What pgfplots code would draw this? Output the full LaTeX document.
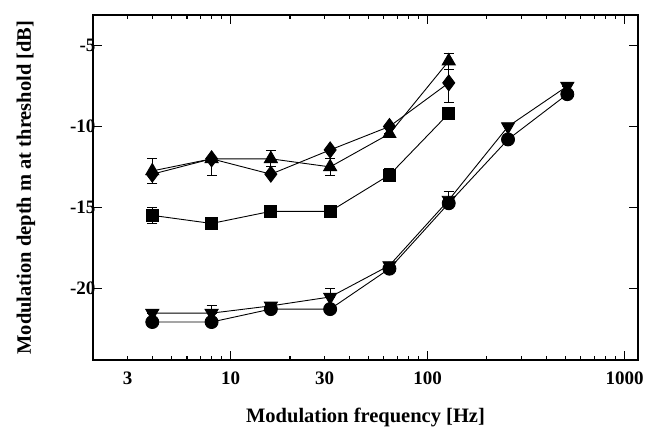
\documentclass[border=0pt]{standalone}
\usepackage{fontspec}
\setmainfont{Liberation Serif}
\usepackage{pgfplots}
\pgfplotsset{compat=1.18}
\usepackage{pgfplotstable}

% modulation depth at threshold (dB) vs modulation frequency (Hz)
% columns: frequency, threshold, error up, error down
\pgfplotstableread{
f    y      ep    em
4   -12.75  0.75  0.75
8   -12.0   0.0   1.0
16  -12.0   0.5   0.5
32  -12.5   0.5   0.5
64  -10.45  0.0   0.0
128 -5.95   0.5   0.5
}\tabUp
\pgfplotstableread{
f    y      ep    em
4   -12.95  0.0   0.0
8   -12.0   0.0   0.0
16  -12.95  0.0   0.0
32  -11.45  0.0   0.0
64  -10.0   0.0   0.0
128 -7.3    1.2   1.2
}\tabDiamond
\pgfplotstableread{
f    y      ep    em
4   -15.5   0.5   0.5
8   -16.0   0.0   0.0
16  -15.25  0.0   0.0
32  -15.25  0.0   0.0
64  -13.0   0.4   0.4
128 -9.2    0.0   0.0
}\tabSquare
\pgfplotstableread{
f    y      ep    em
4   -21.55  0.0   0.0
8   -21.55  0.5   0.0
16  -21.1   0.0   0.0
32  -20.55  0.5   0.0
64  -18.6   0.0   0.0
128 -14.55  0.5   0.0
256 -10.0   0.0   0.0
512 -7.5    0.0   0.0
}\tabDown
\pgfplotstableread{
f    y      ep    em
4   -22.1   0.0   0.0
8   -22.1   0.0   0.0
16  -21.3   0.0   0.0
32  -21.3   0.0   0.0
64  -18.8   0.0   0.0
128 -14.75  0.0   0.0
256 -10.8   0.0   0.0
512 -8.0    0.0   0.0
}\tabCircle

\begin{document}
\begin{tikzpicture}
\useasboundingbox (-93bp,-68bp) rectangle (557bp,360bp);
\begin{axis}[
  at={(0,0)}, anchor=south west,
  scale only axis, width=545bp, height=345bp,
  xmode=log, xmin=2, xmax=1170,
  ymin=-24.45, ymax=-3.1,
  axis line style={line width=1.6bp},
  every tick/.style={black, line width=1.1bp},
  major tick length=9bp, minor tick length=4.5bp,
  tick align=inside,
  xtick={10,100,1000}, xticklabels={10,100,1000},
  extra x ticks={3,30}, extra x tick labels={3,30},
  extra x tick style={major tick length=4.5bp},
  minor xtick={2,3,4,5,6,7,8,9,20,30,40,50,60,70,80,90,200,300,400,500,600,700,800,900},
  ytick={-5,-10,-15,-20}, yticklabels={-5,-10,-15,-20},
  ticklabel style={font=\fontsize{19bp}{21bp}\selectfont\bfseries},
  x tick label style={yshift=-8bp},
  y tick label style={xshift=6bp},
  xlabel={Modulation frequency [Hz]},
  ylabel={Modulation depth m at threshold [dB]},
  label style={font=\fontsize{20.5bp}{22bp}\selectfont\bfseries},
  xlabel style={at={(axis description cs:0.5,-0.1826)}, anchor=base},
  ylabel style={at={(axis description cs:-0.1138,0.5)}, anchor=base, rotate=0},
  cycle list={{black}},
  every axis plot/.append style={black, line width=0.9bp},
  error bars/y dir=both, error bars/y explicit,
  error bars/error bar style={black, line width=0.9bp},
  error bars/error mark options={black, rotate=90, mark size=5bp, line width=0.9bp},
  clip=false,
]
\addplot[black, mark=triangle*, mark size=7.5bp, mark options={fill=black}]
  table[x=f, y=y, y error plus=ep, y error minus=em] {\tabUp};
\addplot[black, mark=diamond*, mark size=8bp, mark options={fill=black}]
  table[x=f, y=y, y error plus=ep, y error minus=em] {\tabDiamond};
\addplot[black, mark=square*, mark size=6bp, mark options={fill=black}]
  table[x=f, y=y, y error plus=ep, y error minus=em] {\tabSquare};
\addplot[black, mark=triangle*, mark size=7.5bp, mark options={fill=black, rotate=180}]
  table[x=f, y=y, y error plus=ep, y error minus=em] {\tabDown};
\addplot[black, mark=*, mark size=6.5bp, mark options={fill=black}]
  table[x=f, y=y, y error plus=ep, y error minus=em] {\tabCircle};
\end{axis}
\end{tikzpicture}
\end{document}
